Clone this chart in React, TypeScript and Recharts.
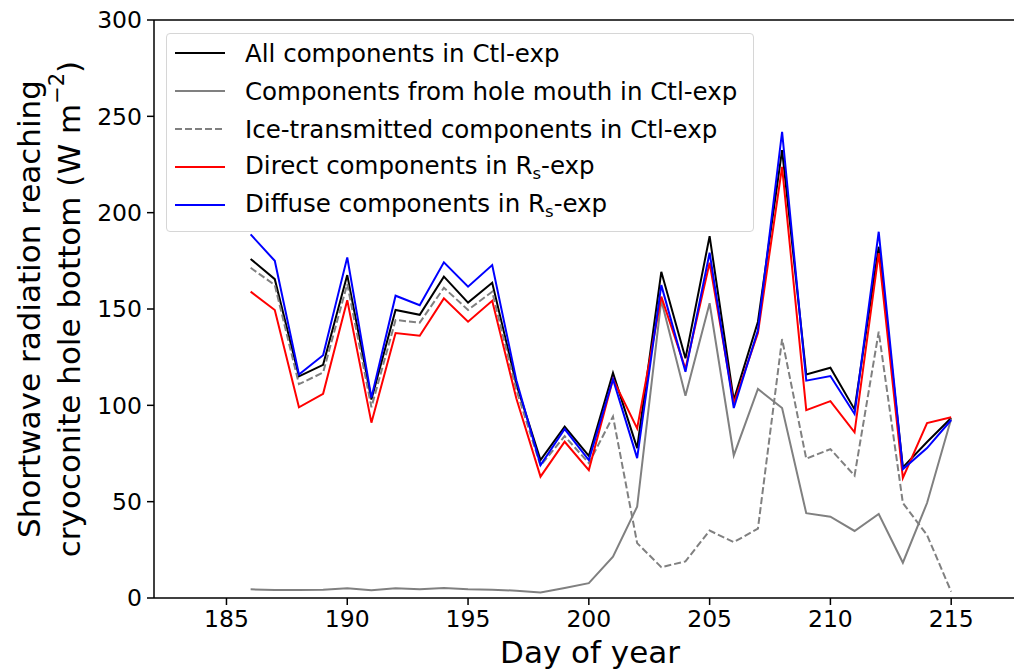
import React from 'react';
import { LineChart, Line, XAxis, YAxis, Legend, ReferenceLine, Label } from 'recharts';

const days = [186, 187, 188, 189, 190, 191, 192, 193, 194, 195, 196, 197, 198, 199, 200, 201, 202, 203, 204, 205, 206, 207, 208, 209, 210, 211, 212, 213, 214, 215];
const allCtl = [176, 165.5, 115, 121, 167.6, 103, 149.5, 147, 166.8, 153.3, 163.6, 111, 71.6, 88.9, 73.7, 116.8, 77.8, 169.3, 124.4, 187.8, 102.7, 143.4, 232.5, 116, 119.5, 97.9, 182.3, 67.8, 81, 93.4];
const mouthCtl = [4.5, 4.2, 4.2, 4.3, 5, 4, 5, 4.5, 5.2, 4.6, 4.3, 3.8, 2.9, 5.2, 7.7, 21.5, 47.4, 154.6, 105, 153, 74, 108.5, 98.6, 44, 42.2, 34.8, 43.6, 18.3, 49.3, 93];
const iceCtl = [171.4, 162.4, 111, 117, 163, 99, 144.3, 142.9, 161, 149.5, 159, 108, 68.7, 84, 70, 94.2, 28.5, 16, 19, 35, 29, 36, 134.4, 72.3, 77.3, 63.5, 138.2, 49.3, 32.7, 3.3];
const directRs = [159, 149.5, 99, 106, 154.6, 91, 137.5, 136.1, 155.5, 143.4, 154.3, 103.5, 63, 81.1, 66.4, 113.6, 88, 156.4, 119, 174, 101, 137.5, 223.8, 97.5, 102.2, 86, 179, 62.3, 90.8, 93.8];
const diffuseRs = [188.7, 175, 116, 126, 176.8, 104, 156.9, 152, 174.2, 161.6, 172.8, 113, 69, 87.7, 71.6, 113.6, 72.6, 162.4, 117.4, 179.2, 98.6, 139, 242, 112.8, 115.2, 95.5, 190.1, 66.9, 77.8, 92.4];

const xTicks = [185, 190, 195, 200, 205, 210, 215];
const yTicks = [0, 50, 100, 150, 200, 250, 300];

const data = days.map((d, i) => ({
  day: d,
  allCtl: allCtl[i],
  mouthCtl: mouthCtl[i],
  iceCtl: iceCtl[i],
  directRs: directRs[i],
  diffuseRs: diffuseRs[i],
}));

const FONT = 'DejaVu Sans';

const Sub = () => (
  <span style={{ fontSize: 16.5, verticalAlign: -4.5 }}>s</span>
);

const legendItems = [
  { key: 'a', color: '#000000', dash: undefined as string | undefined, label: <>All components in Ctl-exp</> },
  { key: 'b', color: '#808080', dash: undefined, label: <>Components from hole mouth in Ctl-exp</> },
  { key: 'c', color: '#808080', dash: '7 3', label: <>Ice-transmitted components in Ctl-exp</> },
  { key: 'd', color: '#ff0000', dash: undefined, label: <>Direct components in R<Sub />-exp</> },
  { key: 'e', color: '#0000ff', dash: undefined, label: <>Diffuse components in R<Sub />-exp</> },
];

const renderLegend = () => (
  <div
    style={{
      position: 'relative',
      boxSizing: 'border-box',
      width: 588,
      height: 199,
      border: '1px solid #d6d6d6',
      borderRadius: 4,
      background: 'rgba(255,255,255,0.8)',
      fontFamily: FONT,
      fontSize: 24.5,
      color: '#000',
    }}
  >
    {legendItems.map((it, i) => (
      <div
        key={it.key}
        style={{
          position: 'absolute',
          left: 0,
          top: 0 + i * 38,
          height: 38,
          display: 'flex',
          alignItems: 'center',
          whiteSpace: 'nowrap',
        }}
      >
        <svg width={78} height={10} style={{ flex: 'none' }}>
          <line x1={8} y1={5} x2={58} y2={5} stroke={it.color} strokeWidth={2} strokeDasharray={it.dash} />
        </svg>
        <span>{it.label}</span>
      </div>
    ))}
  </div>
);

const YLabel = () => {
  const cy = 309;
  return (
    <g fontFamily={FONT} fill="#000">
      <text x={29} y={cy} transform={`rotate(-90, 29, ${cy})`} textAnchor="middle" dominantBaseline="central" fontSize={31}>
        Shortwave radiation reaching
      </text>
      <text x={69} y={cy} transform={`rotate(-90, 69, ${cy})`} textAnchor="middle" dominantBaseline="central" fontSize={31}>
        cryoconite hole bottom (W m<tspan fontSize={21} dy={-12}>−2</tspan><tspan dy={12} fontSize={31}>)</tspan>
      </text>
    </g>
  );
};

const XLabel = () => (
  <text x={590} y={652} textAnchor="middle" dominantBaseline="central" fontSize={31} fontFamily={FONT} fill="#000">
    Day of year
  </text>
);

export default function App() {
  return (
    <div style={{ position: 'absolute', left: 0, top: 0, width: 1014, height: 671, background: '#fff' }}>
      <LineChart width={1014} height={671} data={data} margin={{ top: 20, right: 0, bottom: 0, left: 0 }}>
        <XAxis
          dataKey="day"
          type="number"
          domain={[182, 217.6]}
          ticks={xTicks}
          allowDataOverflow
          tick={{ fontSize: 23.5, fill: '#000', fontFamily: FONT }}
          tickLine={{ stroke: '#000', strokeWidth: 1.5 }}
          axisLine={{ stroke: '#000', strokeWidth: 1.5 }}
          tickSize={7}
          tickMargin={5}
          height={73}
        >
          <Label content={<XLabel />} />
        </XAxis>
        <YAxis
          type="number"
          domain={[0, 300]}
          ticks={yTicks}
          allowDataOverflow
          tick={{ fontSize: 23.5, fill: '#000', fontFamily: FONT }}
          tickLine={{ stroke: '#000', strokeWidth: 1.5 }}
          axisLine={{ stroke: '#000', strokeWidth: 1.5 }}
          tickSize={7}
          tickMargin={5}
          width={154}
        >
          <Label content={<YLabel />} />
        </YAxis>
        <ReferenceLine y={300} stroke="#000" strokeWidth={1.5} ifOverflow="visible" />
        <Line dataKey="allCtl" stroke="#000000" strokeWidth={2} dot={false} isAnimationActive={false} />
        <Line dataKey="mouthCtl" stroke="#808080" strokeWidth={2} dot={false} isAnimationActive={false} />
        <Line dataKey="iceCtl" stroke="#808080" strokeWidth={2} strokeDasharray="7 3" dot={false} isAnimationActive={false} />
        <Line dataKey="directRs" stroke="#ff0000" strokeWidth={2} dot={false} isAnimationActive={false} />
        <Line dataKey="diffuseRs" stroke="#0000ff" strokeWidth={2} dot={false} isAnimationActive={false} />
        <Legend
          layout="vertical"
          align="center"
          verticalAlign="middle"
          content={renderLegend}
          wrapperStyle={{ position: 'absolute', left: 166, top: 33, width: 588, height: 199 }}
        />
      </LineChart>
    </div>
  );
}
